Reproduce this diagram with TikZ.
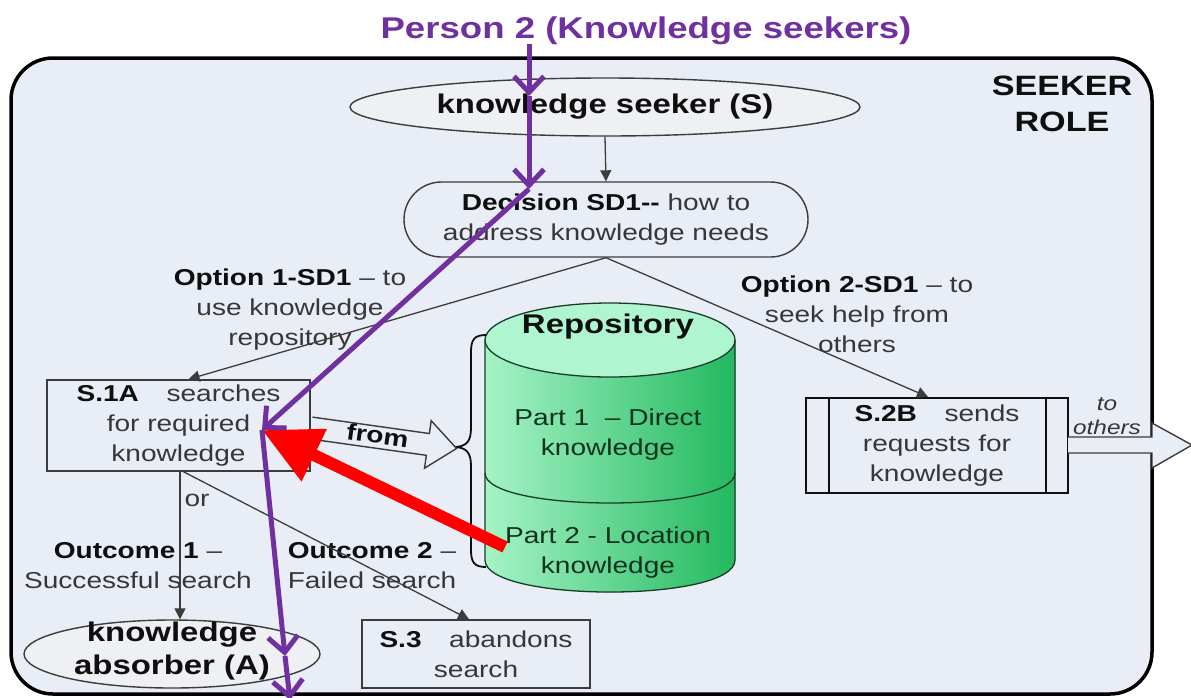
\documentclass[tikz,border=0pt]{standalone}
\usepackage{fontspec}
\setmainfont{Liberation Sans}[FakeStretch=1.22]
\usetikzlibrary{shapes.geometric,shapes.misc,arrows.meta}

\definecolor{panel}{RGB}{232,237,246}
\definecolor{ovalfill}{RGB}{238,240,244}
\definecolor{purp}{RGB}{112,48,160}
\definecolor{ink}{RGB}{15,15,15}
\definecolor{soft}{RGB}{55,55,55}
\definecolor{edge}{RGB}{60,60,60}
\definecolor{cylTop}{RGB}{175,246,208}
\definecolor{cylL}{RGB}{165,243,198}
\definecolor{cylR}{RGB}{35,185,95}
\definecolor{cylEdge}{RGB}{25,60,40}
\definecolor{cylText}{RGB}{15,50,30}

\newcommand\bodyfont{\fontsize{23}{30}\selectfont}
\newcommand\hd[1]{\textcolor{ink}{\bfseries #1}}

\begin{document}
\begin{tikzpicture}[x=1pt,y=-1pt,
  lbl/.style={font=\bodyfont, text=soft, align=center, inner sep=0pt},
  bigbold/.style={font=\fontsize{27}{33}\selectfont\bfseries, text=ink, align=center, inner sep=0pt},
  oval/.style={ellipse, draw=edge, line width=1.4pt, fill=ovalfill, inner sep=0pt},
  procbox/.style={rectangle, draw=edge, line width=1.5pt, fill=panel, inner sep=0pt},
  flow/.style={draw=edge, line width=1.3pt, -{Triangle[length=11pt,width=11pt]}},
  trail/.style={draw=purp, line width=5pt, -{Straight Barb[length=16pt,width=30pt]}},
  hollow/.style={draw=edge, line width=1.4pt, fill=panel, line join=miter}]

\useasboundingbox (0,0) rectangle (1191,697);
\fill[white] (0,0) rectangle (1191,697);

% role frame
\draw[line width=3.5pt, rounded corners=42pt, fill=panel] (11,58) rectangle (1152,694);
\node[font=\fontsize{28}{36}\selectfont\bfseries, text=ink, align=center] (role) at (1062,104) {SEEKER\\ROLE};

% heading
\node[anchor=base, font=\fontsize{30}{36}\selectfont\bfseries, text=purp] (title) at (646,38) {Person 2 (Knowledge seekers)};

% seeker
\node[oval, minimum width=510pt, minimum height=58pt] (seeker) at (605,107) {};
\node[font=\fontsize{27}{32}\selectfont\bfseries, text=ink, inner sep=0pt] (seekertext) at (seeker.center) {knowledge seeker (S)};

% decision
\node[rounded rectangle, draw=edge, line width=1.4pt, fill=panel, minimum width=404pt, minimum height=75pt, inner sep=0pt] (dec) at (606,219.5) {};
\node[lbl] (dectext) at (dec.center) {\hd{Decision SD1{-}{-}} how to\\address knowledge needs};

% searching
\node[procbox, minimum width=263pt, minimum height=91pt] (s1a) at (178.5,425.5) {};
\node[lbl] (s1atext) at (s1a.center) {\hd{S.1A}\hspace{1.2em}searches\\for required\\knowledge};

% asking others
\node[procbox, draw=ink, line width=2.2pt, minimum width=262pt, minimum height=95pt] (s2b) at (937,445.5) {};
\draw[ink, line width=2pt] ([xshift=24pt]s2b.north west) -- ([xshift=24pt]s2b.south west);
\draw[ink, line width=2pt] ([xshift=-23pt]s2b.north east) -- ([xshift=-23pt]s2b.south east);
\node[lbl] (s2btext) at (s2b.center) {\hd{S.2B}\hspace{1.2em}sends\\requests for\\knowledge};

% abandoning
\node[procbox, minimum width=228pt, minimum height=68pt] (s3) at (476,654) {};
\node[lbl] (s3text) at (s3.center) {\hd{S.3}\hspace{1.2em}abandons\\search};

% absorber
\node[oval, minimum width=296pt, minimum height=68pt] (absorber) at (172,654) {};
\node[bigbold] (absorbertext) at (172,651) {knowledge\\absorber (A)};

% repository cylinder
\fill[left color=cylL, right color=cylR] (485,340) -- (485,560) .. controls (485,602.7) and (735,602.7) .. (735,560) -- (735,340) -- cycle;
\draw[cylEdge, line width=1.3pt] (485,340) -- (485,560) .. controls (485,602.7) and (735,602.7) .. (735,560) -- (735,340);
\draw[cylEdge, line width=1.3pt, fill=cylTop] (610,340) ellipse [x radius=125, y radius=37];
\draw[cylEdge, line width=1.3pt] (485,473) .. controls (485,513) and (735,513) .. (735,473);
\node[bigbold] (repo) at (608,327) {Repository};
\node[lbl, text=cylText] (part1) at (608,435) {Part 1\ \ – Direct\\knowledge};
\node[lbl, text=cylText] (part2) at (608,553) {Part 2 - Location\\knowledge};

% brace grouping the repository parts
\draw[ink, line width=1.8pt] (486,335) .. controls (474,335) and (471,340) .. (471,352) -- (471,428) .. controls (471,442) and (466,446) .. (456,447) .. controls (466,448) and (471,452) .. (471,466) -- (471,550) .. controls (471,562) and (474,567) .. (486,567);

% "from" block arrow
\begin{scope}[shift={(311,428)}, rotate=-8]
  \draw[hollow] (0,-11) -- (118,-11) -- (118,-24) -- (147,0) -- (118,24) -- (118,11) -- (0,11);
  \node[transform shape, font=\bodyfont\bfseries, text=ink, inner sep=0pt] (fromtext) at (67,-2) {from};
\end{scope}

% "to others" block arrow
\draw[hollow] (1068,437) -- (1152,437) -- (1152,423) -- (1192,445) -- (1152,468) -- (1152,453) -- (1068,453);
\node[font=\fontsize{20}{24}\selectfont\itshape, text=soft, inner sep=0pt] (totext) at (1107,404) {to};
\node[font=\fontsize{20}{24}\selectfont\itshape, text=soft, inner sep=0pt] (otherstext) at (1107,427) {others};

% branch labels
\node[lbl] (opt1) at (290,310) {\hd{Option 1-SD1} – to\\use knowledge\\repository};
\node[lbl] (opt2) at (857,314) {\hd{Option 2-SD1} – to\\seek help from\\others};
\node[lbl] (ortext) at (197,500) {or};
\node[lbl] (out1) at (138,566) {\hd{Outcome 1} –\\Successful search};
\node[lbl] (out2) at (372,566) {\hd{Outcome 2} –\\Failed search};

% flow connectors
\draw[flow] (seeker.south) -- (dec.north);
\draw[flow] (dec.south) -- ([xshift=10pt]s1a.north);
\draw[flow] (dec.south) -- ([xshift=-9pt]s2b.north);
\draw[flow] ([xshift=1.5pt]s1a.south) -- ([xshift=1.5pt]s1a.south |- absorber.north);
\draw[flow] ([xshift=5pt]s1a.south) -- ([xshift=-7pt]s3.north);

% location knowledge pointer
\coordinate (redtail) at (505,547);
\coordinate (pD) at (262,430);
\draw[red, line width=12pt, -{Triangle[length=58pt,width=55pt]}] (redtail) -- (pD);

% seeker's path
\coordinate (pA) at (529,44);
\coordinate (pB) at (529,96);
\coordinate (pC) at (529,189);
\coordinate (pE) at (285,656);
\coordinate (pF) at (290,700);
\draw[trail] (pA) -- (pB);
\draw[trail] (pB) -- (pC);
\draw[trail] (pC) -- (pD);
\draw[trail] (pD) -- (pE);
\draw[trail] (pE) -- (pF);

\end{tikzpicture}
\end{document}
